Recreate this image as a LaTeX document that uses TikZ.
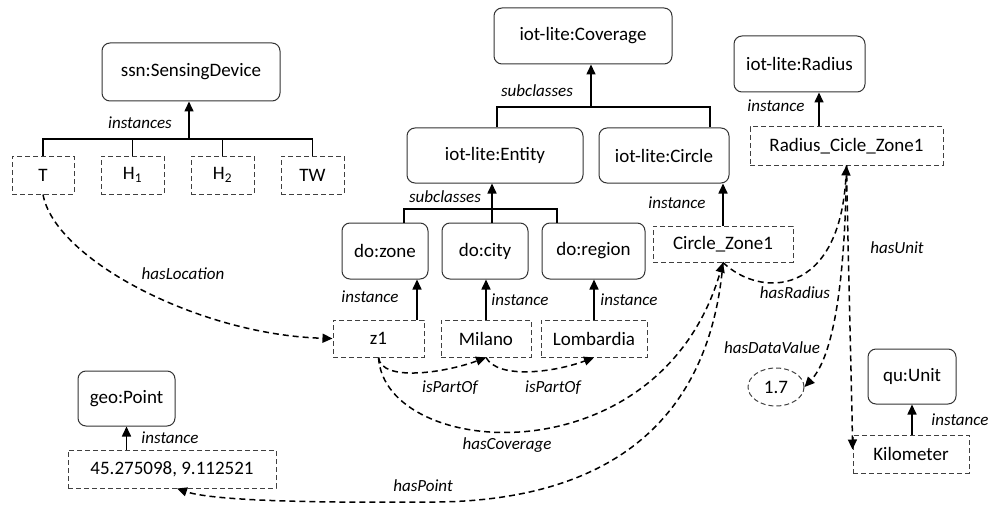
\documentclass[tikz,border=0pt]{standalone}
\usepackage{fontspec}
\setmainfont{Carlito}
\usetikzlibrary{arrows.meta,shapes.geometric}
\begin{document}
\begin{tikzpicture}[x=1pt,y=-1pt,
  cls/.style={draw=black!80, line width=1pt, rounded corners=8pt, inner sep=0pt,
              font=\fontsize{19}{22}\selectfont},
  ind/.style={draw=black!75, line width=1pt, dash pattern=on 5pt off 3pt, inner sep=0pt,
              font=\fontsize{19}{22}\selectfont},
  lbl/.style={font=\fontsize{17}{20}\selectfont\itshape, inner sep=1pt},
  tree/.style={line width=1.6pt},
  up/.style={tree, -{Triangle[length=10pt,width=9pt]}},
  rel/.style={line width=1.5pt, dash pattern=on 6pt off 4pt, -{Triangle[length=10pt,width=9pt]}},
]
\useasboundingbox (0,0) rectangle (990,508);

% classes
\node[cls, minimum width=178pt, minimum height=58pt] (ssn) at (191,72) {ssn:SensingDevice};
\node[cls, minimum width=178pt, minimum height=56pt] (cov) at (583,36) {iot-lite:Coverage};
\node[cls, minimum width=176pt, minimum height=55pt] (ent) at (495,155.5) {iot-lite:Entity};
\node[cls, minimum width=130pt, minimum height=55pt] (cir) at (664,155.5) {iot-lite:Circle};
\node[cls, minimum width=131pt, minimum height=56pt] (rad) at (799.5,64) {iot-lite:Radius};
\node[cls, minimum width=86pt, minimum height=56pt] (zone) at (385,251) {do:zone};
\node[cls, minimum width=86pt, minimum height=56pt] (city) at (485,251) {do:city};
\node[cls, minimum width=103pt, minimum height=56pt] (region) at (593.5,251) {do:region};
\node[cls, minimum width=97pt, minimum height=55pt] (geo) at (126.5,398.5) {geo:Point};
\node[cls, minimum width=88pt, minimum height=55pt] (unit) at (912,376.5) {qu:Unit};

% individuals
\node[ind, minimum width=62pt, minimum height=38pt] (T) at (43,175) {T};
\node[ind, minimum width=63pt, minimum height=38pt] (H1) at (132.5,175) {H\textsubscript{1}};
\node[ind, minimum width=63pt, minimum height=38pt] (H2) at (222.5,175) {H\textsubscript{2}};
\node[ind, minimum width=63pt, minimum height=38pt] (TW) at (312.5,175) {TW};
\node[ind, minimum width=193pt, minimum height=38pt] (rcz) at (846.5,146) {Radius\_Cicle\_Zone1};
\node[ind, minimum width=140pt, minimum height=36pt] (cz) at (723,244) {Circle\_Zone1};
\node[ind, minimum width=91pt, minimum height=37pt] (z1) at (378.5,338.5) {z1};
\node[ind, minimum width=90pt, minimum height=37pt] (mil) at (486,338.5) {Milano};
\node[ind, minimum width=106pt, minimum height=37pt] (lom) at (594,338.5) {Lombardia};
\node[ind, minimum width=208pt, minimum height=38pt] (pt) at (172,469) {45.275098, 9.112521};
\node[ind, minimum width=116pt, minimum height=38pt] (km) at (911,454) {Kilometer};
\node[ind, ellipse, minimum width=56pt, minimum height=38pt] (v17) at (776,387) {1.7};

% junction points of the class trees
\coordinate (sb) at (189,139);
\coordinate (cL) at (497,107);
\coordinate (cA) at (591,107);
\coordinate (cR) at (710,107);
\coordinate (eL) at (404,209);
\coordinate (eA) at (492,209);
\coordinate (eR) at (557,209);
\coordinate (zA) at (417,0);
\coordinate (rA) at (819,0);

% sensing devices
\draw[tree] (T.north) -- (T.north |- sb) -- (TW.north |- sb) -- (TW.north);
\draw[tree] (H1.north) -- (H1.north |- sb);
\draw[tree] (H2.north) -- (H2.north |- sb);
\draw[up] (sb) -- (ssn.south -| sb);
\node[lbl] (l1) at (140,123) {instances};

% coverage hierarchy
\draw[tree] (ent.north -| cL) -- (cL) -- (cR) -- (cir.north -| cR);
\draw[up] (cA) -- (cov.south -| cA);
\node[lbl] (l2) at (537,91) {subclasses};
\draw[tree] (zone.north -| eL) -- (eL) -- (eR) -- (region.north -| eR);
\draw[tree] (city.north -| eA) -- (eA);
\draw[up] (eA) -- (ent.south -| eA);
\node[lbl] (l3) at (445,197) {subclasses};

% instance links
\draw[up] (rcz.north -| rA) -- (rad.south -| rA);
\node[lbl] (l4) at (776,106) {instance};
\draw[up] (cz.north) -- (cir.south -| cz.north);
\node[lbl] (l5) at (677,203) {instance};
\draw[up] (z1.north -| zA) -- (zone.south -| zA);
\node[lbl] (l6) at (370,297) {instance};
\draw[up] (mil.north) -- (city.south -| mil.north);
\node[lbl] (l7) at (520,300) {instance};
\draw[up] (lom.north) -- (region.south -| lom.north);
\node[lbl] (l8) at (629,300) {instance};
\draw[up] (pt.north -| geo.south) -- (geo.south);
\node[lbl] (l9) at (170,438) {instance};
\draw[up] (km.north -| unit.south) -- (unit.south);
\node[lbl] (l10) at (960,420) {instance};

% object properties
\draw[rel] (T.south) .. controls (55,260) and (200,335) .. (z1.west);
\node[lbl] (l11) at (183,274) {hasLocation};

\draw[rel] (z1.south) .. controls +(3,25) and +(-40,15) .. (mil.south);
\node[lbl] (l12) at (450,388) {isPartOf};
\draw[rel] (mil.south) .. controls +(12,22) and +(-40,15) .. (lom.south);
\node[lbl] (l13) at (553,388) {isPartOf};

\draw[rel] (z1.south) .. controls (385,460) and (660,480) .. (cz.south);
\node[lbl] (l14) at (507,445) {hasCoverage};

\coordinate (hp) at (420,502);
\draw[rel] (cz.south) .. controls (710,420) and (610,505) .. (hp)
  .. controls (300,503) and (210,500) .. ([xshift=5pt]pt.south);
\node[lbl] (l15) at (423,486) {hasPoint};

\draw[rel] (cz.south) .. controls (760,298) and (840,298) .. (rcz.south);
\node[lbl] (l16) at (795,293) {hasRadius};

\draw[rel] (rcz.south) .. controls (845,300) and (830,360) .. (v17.east);
\node[lbl] (l17) at (772,348) {hasDataValue};

\draw[rel] (rcz.south) .. controls (849,300) and (852,400) .. ([yshift=-15pt]km.north west);
\node[lbl] (l18) at (897,248) {hasUnit};

\end{tikzpicture}
\end{document}
